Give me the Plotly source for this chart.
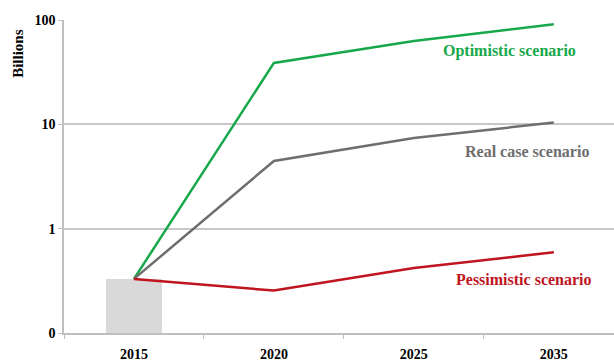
import plotly.graph_objects as go
import numpy as np

# Scenario projections, billions (log scale)
years = ["2015", "2020", "2025", "2035"]
optimistic = [0.33, 38.8, 63.0, 91.0]
real_case = [0.33, 4.46, 7.4, 10.4]
pessimistic = [0.33, 0.255, 0.42, 0.594]
base_year = ["2015"]
base_value = [0.33]

y_tickvals = [0.1, 1, 10, 100]
y_ticktext = ["0", "1", "10", "100"]

serif = "Liberation Serif"

fig = go.Figure()

fig.add_trace(go.Bar(
    x=base_year, y=base_value, width=0.4,
    marker=dict(color="#d9d9d9", line=dict(width=0)),
    showlegend=False, hoverinfo="skip",
))

series = [
    ("Optimistic scenario", optimistic, "#17a84b"),
    ("Real case scenario", real_case, "#6e6e6e"),
    ("Pessimistic scenario", pessimistic, "#c0141e"),
]
for name, vals, col in series:
    fig.add_trace(go.Scatter(
        x=years, y=vals, mode="lines", name=name,
        line=dict(color=col, width=2.5), showlegend=False,
    ))

# Scenario labels next to the line ends
labels = [
    ("Optimistic scenario", 2.686, 50.5, "#17a84b"),
    ("Real case scenario", 2.807, 5.55, "#6e6e6e"),
    ("Pessimistic scenario", 2.786, 0.329, "#c0141e"),
]
for text, xv, yv, col in labels:
    fig.add_annotation(
        x=xv, y=np.log10(yv), text=f"<b>{text}</b>", showarrow=False,
        font=dict(family=serif, size=16, color=col),
        xanchor="center", yanchor="middle",
    )

fig.add_annotation(
    xref="paper", yref="paper", x=-0.083, y=0.893, text="<b>Billions</b>",
    showarrow=False, textangle=-90,
    font=dict(family=serif, size=15, color="#000000"),
    xanchor="center", yanchor="middle",
)

fig.update_layout(
    width=614, height=361,
    margin=dict(l=64, r=0, t=20, b=28),
    plot_bgcolor="white", paper_bgcolor="white",
    bargap=0,
    xaxis=dict(
        type="category", range=[-0.5, 3.43],
        tickson="boundaries", ticks="outside", ticklen=4,
        tickcolor="#bfbfbf", ticklabelstandoff=7,
        showline=True, linecolor="#bfbfbf", linewidth=1.5,
        showgrid=False, zeroline=False,
        tickfont=dict(family=serif, size=14, color="#000000"),
        tickprefix="<b>", ticksuffix="</b>",
    ),
    yaxis=dict(
        type="log", range=[-1, 2],
        tickvals=y_tickvals, ticktext=[f"<b>{t}</b>" for t in y_ticktext],
        ticks="outside", ticklen=4, tickcolor="#bfbfbf",
        showline=True, linecolor="#bfbfbf", linewidth=1.5,
        showgrid=True, gridcolor="#c8c8c8", gridwidth=1.5,
        zeroline=False,
        tickfont=dict(family=serif, size=14, color="#000000"),
    ),
)

fig.write_html("out.html")
